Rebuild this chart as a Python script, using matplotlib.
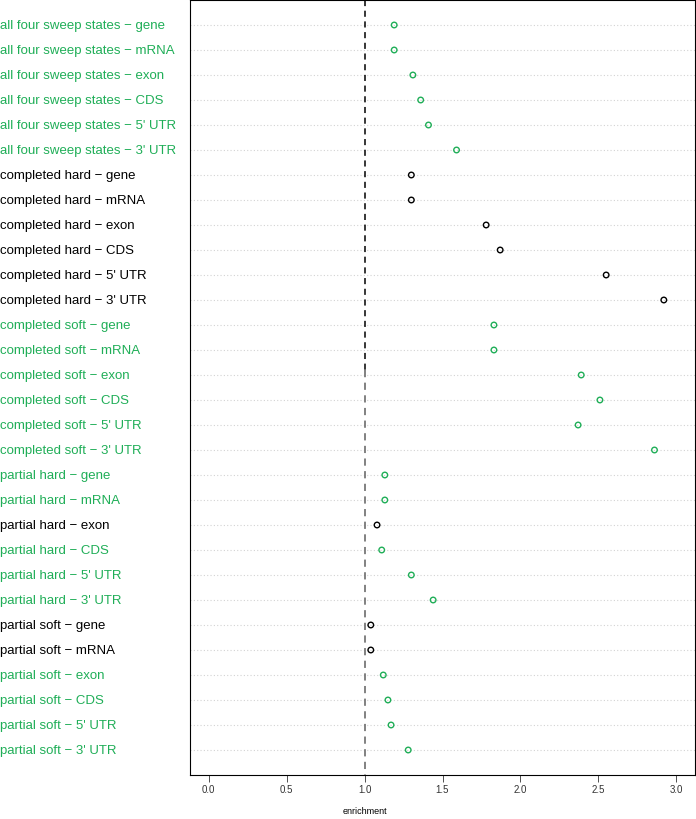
import numpy as np
import matplotlib
matplotlib.use("Agg")
import matplotlib.pyplot as plt
import matplotlib.transforms as mtrans

plt.rcParams['font.family'] = ['Liberation Sans', 'DejaVu Sans']

groups = ["all four sweep states", "completed hard", "completed soft",
          "partial hard", "partial soft"]
features = ["gene", "mRNA", "exon", "CDS", "5' UTR", "3' UTR"]

enrichment = [
    1.19, 1.19, 1.31, 1.36, 1.41, 1.59,   # all four sweep states
    1.30, 1.30, 1.78, 1.87, 2.55, 2.92,   # completed hard
    1.83, 1.83, 2.39, 2.51, 2.37, 2.86,   # completed soft
    1.13, 1.13, 1.08, 1.11, 1.30, 1.44,   # partial hard
    1.04, 1.04, 1.12, 1.15, 1.17, 1.28,   # partial soft
]
significant = [
    1, 1, 1, 1, 1, 1,
    0, 0, 0, 0, 0, 0,
    1, 1, 1, 1, 1, 1,
    1, 1, 0, 1, 1, 1,
    0, 0, 1, 1, 1, 1,
]

green = '#1fae57'
labels = [g + " \u2212 " + f for g in groups for f in features]
n = len(labels)
y = np.arange(1, n + 1)
cols = [green if s else 'black' for s in significant]

fig = plt.figure(figsize=(6.96, 8.2), dpi=100)
ax = fig.add_axes([190/696, 44/820, 505/696, 775/820])
ax.set_xlim(-0.12, 3.12)
ax.set_ylim(n + 1, 0)

for yy in y:
    ax.axhline(yy, color='lightgray', lw=0.8, ls=(0, (1, 2)), zorder=1)

ax.scatter(enrichment, y, s=16, facecolors='none', edgecolors=cols,
           linewidths=1.0, zorder=3)

# reference line at 1 (dark on the top part, grey further down)
ax.plot([1, 1], [0, 14.8], color='black', lw=1.1, ls=(0, (4, 3)), zorder=2)
ax.plot([1, 1], [14.8, n + 1], color='#777777', lw=1.3, ls=(0, (4, 3)), zorder=2)

ax.set_yticks([])
ax.set_xticks([0, 0.5, 1.0, 1.5, 2.0, 2.5, 3.0])
ax.set_xticklabels(["0.0", "0.5", "1.0", "1.5", "2.0", "2.5", "3.0"], fontsize=7)
ax.tick_params(axis='x', length=5, width=0.6, pad=1.5, colors='#333333')
for sp in ax.spines.values():
    sp.set_linewidth(0.8)

fig.text(ax.get_position().x0 + ax.get_position().width * (1.0 + 0.12) / 3.24,
         (820 - 812) / 820, "enrichment", ha='center', va='center', fontsize=6.5)

tr = mtrans.blended_transform_factory(fig.transFigure, ax.transData)
for lab, yy, c in zip(labels, y, cols):
    ax.text(0.0, yy, lab, transform=tr, ha='left', va='center', color=c,
            fontsize=9.5, clip_on=False)

fig.savefig("out.png", dpi=100)
